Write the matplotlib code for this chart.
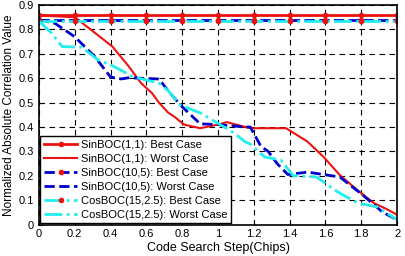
import matplotlib.pyplot as plt

plt.rcParams['font.family'] = ['Liberation Sans', 'DejaVu Sans']

# best case: flat lines, one sample every 0.2 chip
best_x = [0, 0.2, 0.4, 0.6, 0.8, 1.0, 1.2, 1.4, 1.6, 1.8, 2.0]
sin11_best = [0.858] * 11
sin105_best = [0.840] * 11
cos152_best = [0.833] * 11

# worst case curves
sin11_x = [0, 0.2, 0.28, 0.41, 0.5, 0.57, 0.63, 0.67, 0.72, 0.76, 0.81, 0.9, 1.0, 1.05,
           1.1, 1.18, 1.38, 1.5, 1.59, 1.68, 1.78, 1.87, 1.94, 2.0]
sin11_worst = [0.858, 0.85, 0.805, 0.73, 0.65, 0.58, 0.54, 0.50, 0.46, 0.44, 0.41, 0.395, 0.41, 0.42,
               0.41, 0.395, 0.395, 0.34, 0.277, 0.203, 0.14, 0.088, 0.064, 0.04]

sin105_x = [0, 0.09, 0.2, 0.31, 0.4, 0.46, 0.5, 0.67, 0.72, 0.79, 0.9, 1.0, 1.15, 1.18,
            1.24, 1.28, 1.33, 1.39, 1.5, 1.68, 1.81, 1.92, 2.0]
sin105_worst = [0.84, 0.825, 0.77, 0.69, 0.605, 0.597, 0.602, 0.597, 0.55, 0.49, 0.413, 0.41, 0.40, 0.40,
                0.32, 0.30, 0.25, 0.205, 0.215, 0.195, 0.12, 0.05, 0.02]

cos152_x = [0, 0.07, 0.13, 0.24, 0.33, 0.4, 0.53, 0.67, 0.72, 0.79, 0.9, 1.0, 1.09, 1.15,
            1.18, 1.26, 1.35, 1.42, 1.55, 1.67, 1.78, 1.89, 2.0]
cos152_worst = [0.835, 0.785, 0.73, 0.727, 0.675, 0.655, 0.605, 0.58, 0.55, 0.49, 0.458, 0.415, 0.375, 0.34,
                0.33, 0.277, 0.265, 0.2, 0.195, 0.133, 0.088, 0.072, 0.02]

red = '#ee1111'
blue = '#0000cc'
cyan = '#22eeee'

fig = plt.figure(figsize=(4.06, 2.56), dpi=100)
ax = fig.add_axes([0.096, 0.123, 0.882, 0.857])

ax.plot(best_x, sin11_best, color=red, lw=2, marker='o', ms=3, mfc=red, mec=red,
        label='SinBOC(1,1): Best Case')
ax.plot(sin11_x, sin11_worst, color=red, lw=1.5, label='SinBOC(1,1): Worst Case')
ax.plot(best_x, sin105_best, color=blue, lw=2, ls='--', marker='o', ms=3, mfc=red, mec=red,
        label='SinBOC(10,5): Best Case')
ax.plot(sin105_x, sin105_worst, color=blue, lw=2, ls='--', label='SinBOC(10,5): Worst Case')
ax.plot(best_x, cos152_best, color=cyan, lw=2, ls='-.', marker='o', ms=3, mfc=red, mec=red,
        label='CosBOC(15,2.5): Best Case')
ax.plot(cos152_x, cos152_worst, color=cyan, lw=2, ls='-.', label='CosBOC(15,2.5): Worst Case')

ax.set_xlim(0, 2)
ax.set_ylim(0, 0.9)
ax.set_xticks([0, 0.2, 0.4, 0.6, 0.8, 1, 1.2, 1.4, 1.6, 1.8, 2])
ax.set_xticklabels(['0', '0.2', '0.4', '0.6', '0.8', '1', '1.2', '1.4', '1.6', '1.8', '2'])
ax.set_yticks([0, 0.1, 0.2, 0.3, 0.4, 0.5, 0.6, 0.7, 0.8, 0.9])
ax.set_yticklabels(['0', '0.1', '0.2', '0.3', '0.4', '0.5', '0.6', '0.7', '0.8', '0.9'])
ax.tick_params(direction='in', labelsize=8, length=3)
ax.grid(True, color='black', ls=(0, (5, 4)), lw=0.8)
for s in ax.spines.values():
    s.set_linewidth(1.2)

ax.set_xlabel('Code Search Step(Chips)', fontsize=9, labelpad=2)
ax.set_ylabel('Normalized Absolute Correlation Value', fontsize=8.5, labelpad=3)

leg = ax.legend(loc='lower left', fontsize=8, frameon=True, fancybox=False, framealpha=1,
                edgecolor='black', borderaxespad=0.1, handlelength=3.0, labelspacing=0.35,
                borderpad=0.35, handletextpad=0.3, numpoints=1)
leg.get_frame().set_linewidth(1.0)

fig.savefig('out.png', dpi=100)
